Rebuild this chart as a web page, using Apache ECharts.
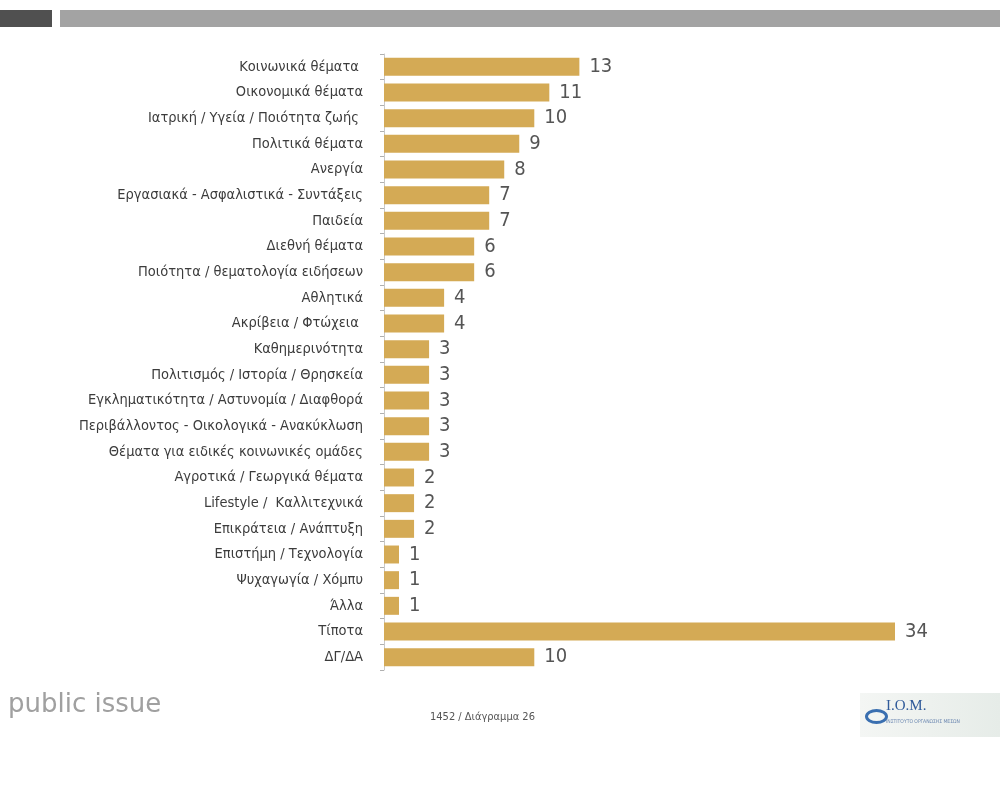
<!DOCTYPE html>
<html>
<head>
<meta charset="utf-8">
<script src="https://cdn.jsdelivr.net/npm/echarts@6/dist/echarts.min.js"></script>
<style>
  html, body { margin: 0; padding: 0; background: #fff; }
  #chart { width: 1000px; height: 796px; }
</style>
</head>
<body>
<div id="chart"></div>
<script>
  // κατηγορίες (από πάνω προς τα κάτω)
  const categories = [
    'Κοινωνικά θέματα ',
    'Οικονομικά θέματα',
    'Ιατρική / Υγεία / Ποιότητα ζωής ',
    'Πολιτικά θέματα',
    'Ανεργία',
    'Εργασιακά - Ασφαλιστικά - Συντάξεις',
    'Παιδεία',
    'Διεθνή θέματα',
    'Ποιότητα / θεματολογία ειδήσεων',
    'Αθλητικά',
    'Ακρίβεια / Φτώχεια ',
    'Καθημερινότητα',
    'Πολιτισμός / Ιστορία / Θρησκεία',
    'Εγκληματικότητα / Αστυνομία / Διαφθορά',
    'Περιβάλλοντος - Οικολογικά - Ανακύκλωση',
    'Θέματα για ειδικές κοινωνικές ομάδες',
    'Αγροτικά / Γεωργικά θέματα',
    'Lifestyle /  Καλλιτεχνικά',
    'Επικράτεια / Ανάπτυξη',
    'Επιστήμη / Τεχνολογία',
    'Ψυχαγωγία / Χόμπυ',
    'Άλλα',
    'Τίποτα',
    'ΔΓ/ΔΑ'
  ]

  // ποσοστά
  const values = [13, 11, 10, 9, 8, 7, 7, 6, 6, 4, 4, 3, 3, 3, 3, 3, 2, 2, 2, 1, 1, 1, 34, 10]

  const footerLeft = 'public issue'
  const footerCenter = '1452 / Διάγραμμα 26'

  const chart = echarts.init(document.getElementById('chart'))

  const labelFont = "'Liberation Sans Narrow', 'DejaVu Sans Condensed', 'Noto Sans', sans-serif"

  chart.setOption({
    backgroundColor: '#ffffff',
    animation: false,
    grid: {
      left: 384,
      right: 105,
      top: 54,
      height: 616,
      containLabel: false
    },
    xAxis: {
      type: 'value',
      min: 0,
      max: 34,
      show: false
    },
    yAxis: {
      type: 'category',
      inverse: true,
      data: categories,
      axisLine: { show: true, lineStyle: { color: '#c8c8c8', width: 1 } },
      axisTick: { show: true, length: 4, lineStyle: { color: '#b0b0b0' } },
      axisLabel: {
        color: '#3c3c3c',
        fontSize: 14.5,
        fontFamily: labelFont,
        margin: 21
      }
    },
    series: [
      {
        type: 'bar',
        data: values,
        barCategoryGap: '30%',
        itemStyle: { color: '#d4aa55' },
        label: {
          show: true,
          position: 'right',
          distance: 10,
          color: '#555555',
          fontSize: 20,
          fontFamily: labelFont
        }
      }
    ],
    graphic: [
      // κεφαλίδα
      { type: 'rect', left: 0, top: 10, shape: { width: 52, height: 17 }, style: { fill: '#505050' } },
      { type: 'rect', left: 60, top: 10, shape: { width: 940, height: 17 }, style: { fill: '#a3a3a3' } },
      // υποσέλιδο
      {
        type: 'text', left: 8, top: 692,
        style: { text: footerLeft, fill: '#a0a0a0', fontSize: 26, fontFamily: "'DejaVu Sans', sans-serif" }
      },
      {
        type: 'text', left: 430, top: 712,
        style: { text: footerCenter, fill: '#555555', fontSize: 11, fontFamily: labelFont }
      },
      // λογότυπο
      {
        type: 'rect', left: 860, top: 693, shape: { width: 140, height: 44 },
        style: {
          fill: new echarts.graphic.LinearGradient(0, 0, 1, 0, [
            { offset: 0, color: '#f4f6f4' },
            { offset: 1, color: '#e6ece8' }
          ])
        }
      },
      {
        type: 'ellipse', left: 864, top: 708, shape: { cx: 0, cy: 0, rx: 10, ry: 6 },
        style: { fill: 'none', stroke: '#3a6fb0', lineWidth: 3 }
      },
      {
        type: 'text', left: 886, top: 699,
        style: { text: 'I.O.M.', fill: '#2f5a9a', fontSize: 15, fontFamily: "'Liberation Serif', serif" }
      },
      {
        type: 'text', left: 886, top: 719,
        style: { text: 'ΙΝΣΤΙΤΟΥΤΟ ΟΡΓΑΝΩΣΗΣ ΜΕΣΩΝ', fill: '#6a86b0', fontSize: 5, fontFamily: labelFont }
      }
    ]
  })
</script>
</body>
</html>
